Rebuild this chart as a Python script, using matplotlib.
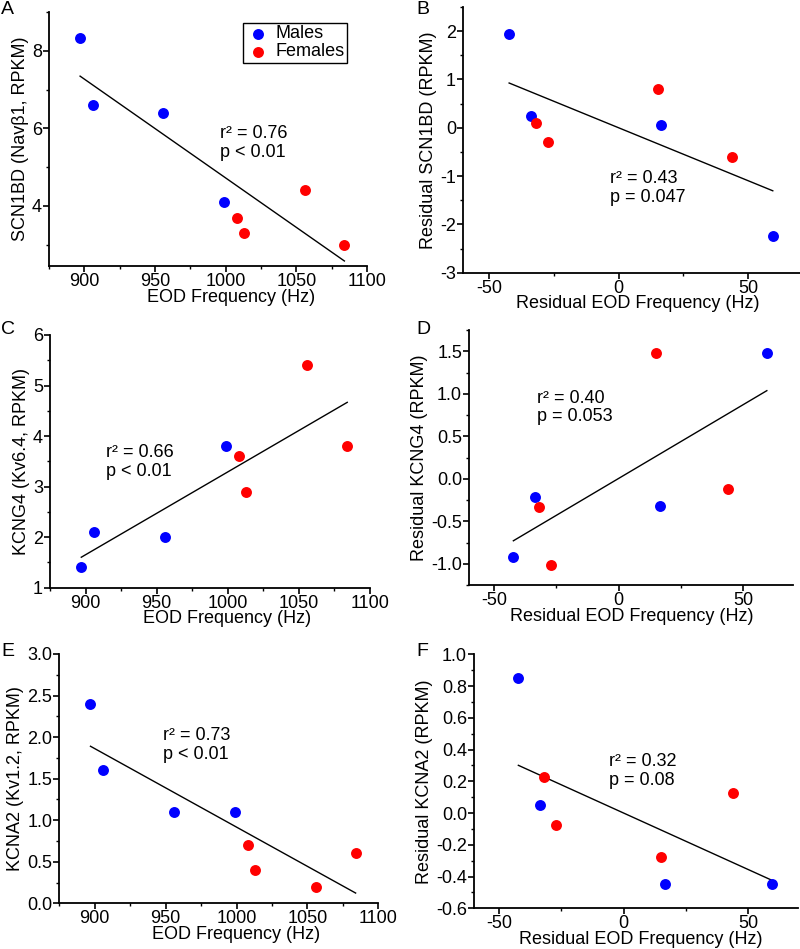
import numpy as np
import matplotlib
matplotlib.use('Agg')
import matplotlib.pyplot as plt
from matplotlib.ticker import MultipleLocator

plt.rcParams['font.family'] = ['Liberation Sans', 'DejaVu Sans']
plt.rcParams['axes.unicode_minus'] = False
plt.rcParams['font.size'] = 13

# EOD frequency (Hz), males then females
eod_m = [897, 906, 956, 999]
eod_f = [1008, 1013, 1056, 1084]
# residual EOD frequency (Hz)
res_eod_m = [-42.2, -33.6, 16.5, 59.5]
res_eod_f = [-31.8, -27.1, 15.2, 43.8]

scn1bd_m = [8.32, 6.61, 6.40, 4.10]
scn1bd_f = [3.70, 3.30, 4.40, 3.00]
res_scn1bd_m = [1.95, 0.25, 0.05, -2.25]
res_scn1bd_f = [0.10, -0.30, 0.80, -0.60]

kcng4_m = [1.40, 2.10, 2.00, 3.80]
kcng4_f = [3.60, 2.90, 5.40, 3.80]
res_kcng4_m = [-0.92, -0.22, -0.32, 1.48]
res_kcng4_f = [-0.33, -1.02, 1.48, -0.12]

kcna2_m = [2.40, 1.60, 1.10, 1.10]
kcna2_f = [0.70, 0.40, 0.20, 0.60]
res_kcna2_m = [0.85, 0.05, -0.45, -0.45]
res_kcna2_f = [0.225, -0.075, -0.275, 0.125]

stats = ['r² = 0.76\np < 0.01', 'r² = 0.43\np = 0.047',
         'r² = 0.66\np < 0.01', 'r² = 0.40\np = 0.053',
         'r² = 0.73\np < 0.01', 'r² = 0.32\np = 0.08']
ylabels = ['SCN1BD (Navβ1, RPKM)', 'Residual SCN1BD (RPKM)',
           'KCNG4 (Kv6.4, RPKM)', 'Residual KCNG4 (RPKM)',
           'KCNA2 (Kv1.2, RPKM)', 'Residual KCNA2 (RPKM)']
letters = ['A', 'B', 'C', 'D', 'E', 'F']

fig = plt.figure(figsize=(8, 9.49), dpi=100)
W, H = 800, 949


def make_ax(l, r, t, b):
    return fig.add_axes([l / W, 1 - b / H, (r - l) / W, (b - t) / H])


panels = [
    # box px, xdata, ydata, ylim, ymajor, yminor, text pos (axes frac), xlabel x frac
    ((49, 367, 12, 266), (eod_m, eod_f), (scn1bd_m, scn1bd_f), (2.45, 9.0), 2, 1, (0.538, 0.484), 0.572),
    ((463, 800, 7, 272.7), (res_eod_m, res_eod_f), (res_scn1bd_m, res_scn1bd_f), (-3, 2.5), 1, 0.5, (0.436, 0.319), 0.52),
    ((50, 370, 335, 587.7), (eod_m, eod_f), (kcng4_m, kcng4_f), (1, 6), 1, 0.5, (0.175, 0.497), 0.553),
    ((469, 793, 330, 585), (res_eod_m, res_eod_f), (res_kcng4_m, res_kcng4_f), (-1.25, 1.75), 0.5, 0.25, (0.209, 0.696), 0.503),
    ((59.3, 378.3, 654, 903.3), (eod_m, eod_f), (kcna2_m, kcna2_f), (0, 3), 0.5, 0.25, (0.324, 0.635), 0.554),
    ((474, 798, 654.3, 908.3), (res_eod_m, res_eod_f), (res_kcna2_m, res_kcna2_f), (-0.6, 1.0), 0.2, 0.1, (0.418, 0.54), 0.514),
]
letter_pos = [(1, 1), (416, 1), (1, 321), (416, 321), (1, 643), (416, 643)]

for i, (box, xs, ys, ylim, ymaj, ymin, tpos, xlab_x) in enumerate(panels):
    ax = make_ax(*box)
    resid = i % 2 == 1
    ax.scatter(xs[0], ys[0], s=62, color='#0000ff', zorder=3, label='Males', linewidths=0)
    ax.scatter(xs[1], ys[1], s=62, color='#ff0000', zorder=3, label='Females', linewidths=0)
    xall = np.array(xs[0] + xs[1])
    yall = np.array(ys[0] + ys[1])
    m, c = np.polyfit(xall, yall, 1)
    xl = np.array([xall.min(), xall.max()])
    ax.plot(xl, m * xl + c, color='black', lw=1.0, zorder=2)

    if resid:
        ax.set_xlim(-60, 70)
        ax.set_xlabel('Residual EOD Frequency (Hz)', labelpad=-1)
    else:
        ax.set_xlim(875, 1100)
        ax.set_xlabel('EOD Frequency (Hz)', labelpad=-1)
    ax.xaxis.set_major_locator(MultipleLocator(50))
    ax.xaxis.set_minor_locator(MultipleLocator(25))
    ax.xaxis.label.set_x(xlab_x)
    ax.set_ylim(*ylim)
    ax.yaxis.set_major_locator(MultipleLocator(ymaj))
    ax.yaxis.set_minor_locator(MultipleLocator(ymin))
    ax.set_ylabel(ylabels[i], labelpad=2)

    ax.spines['top'].set_visible(False)
    ax.spines['right'].set_visible(False)
    for s in ['left', 'bottom']:
        ax.spines[s].set_linewidth(1.3)
    ax.tick_params(which='major', direction='out', length=4, width=1.2, labelsize=13, pad=1)
    ax.tick_params(which='minor', direction='out', length=2.5, width=1.0)
    ax.patch.set_alpha(0)

    ax.text(tpos[0], tpos[1], stats[i], transform=ax.transAxes, ha='left', va='center',
            fontsize=13, linespacing=1.15)

    if i == 0:
        ax.legend(loc='upper left', bbox_to_anchor=(0.61, 0.958), borderaxespad=0,
                  fancybox=False, edgecolor='black', framealpha=1, fontsize=13,
                  handletextpad=0.3, borderpad=0.15, labelspacing=0.05,
                  handlelength=1.33, scatterpoints=1)
        ax.get_legend().get_frame().set_linewidth(1.0)

for letter, (lx, ly) in zip(letters, letter_pos):
    fig.text(lx / W, 1 - ly / H, letter, ha='left', va='top', fontsize=14)

fig.savefig('out.png', dpi=100)
